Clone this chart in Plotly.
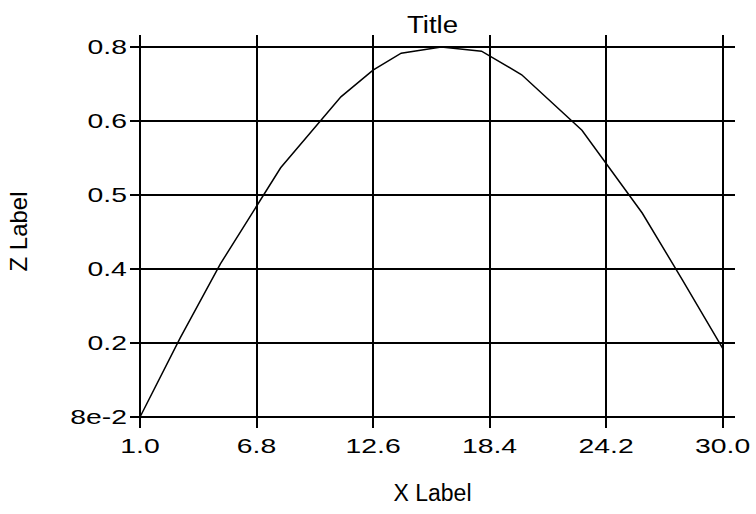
import plotly.graph_objects as go

# Data
x_vals = [1.0, 3.0, 5.0, 8.0, 11.0, 12.6, 14.0, 16.0, 18.0, 20.0, 23.0, 26.0, 28.0, 30.0]
z_vals = [0.080, 0.234, 0.378, 0.565, 0.703, 0.755, 0.788, 0.800, 0.792, 0.746, 0.638, 0.477, 0.347, 0.214]

x_tick_vals = [1.0, 6.8, 12.6, 18.4, 24.2, 30.0]
x_tick_text = ["1.0", "6.8", "12.6", "18.4", "24.2", "30.0"]
y_tick_vals = [0.08, 0.224, 0.368, 0.512, 0.656, 0.8]
y_tick_text = ["8e-2", "0.2", "0.4", "0.5", "0.6", "0.8"]

FONT = "Liberation Sans, Arial, Helvetica, sans-serif"
W, H = 756, 514

fig = go.Figure()
fig.add_trace(go.Scatter(
    x=x_vals, y=z_vals, mode="lines",
    line=dict(color="black", width=1.5),
    showlegend=False, hoverinfo="skip",
))

fig.update_layout(
    width=W, height=H,
    margin=dict(l=130, r=21, t=35, b=86),
    paper_bgcolor="white", plot_bgcolor="white",
    font=dict(family=FONT, color="black"),
    title=dict(text="Title", x=0.5, xref="paper", xanchor="center",
               y=1 - 25 / H, yref="container", yanchor="middle",
               font=dict(size=23, family=FONT, color="black")),
)
fig.update_xaxes(
    range=[0.50, 30.62],
    tickmode="array", tickvals=x_tick_vals, ticktext=x_tick_text,
    showgrid=True, gridcolor="black", gridwidth=1.5,
    zeroline=False, showline=False, ticks="",
    ticklabelstandoff=3,
    tickfont=dict(size=21, family=FONT, color="black"),
    title=dict(text="X Label", font=dict(size=23, family=FONT, color="black"), standoff=28),
)
fig.update_yaxes(
    range=[0.0586, 0.8234],
    tickmode="array", tickvals=y_tick_vals, ticktext=y_tick_text,
    showgrid=True, gridcolor="black", gridwidth=1.5,
    zeroline=False, showline=False, ticks="",
    ticklabelstandoff=2,
    tickfont=dict(size=21, family=FONT, color="black"),
    title=dict(text="Z Label", font=dict(size=24, family=FONT, color="black"), standoff=50),
)

# Remove the page margin so the figure sits at the window origin, and
# widen the tick-label / title glyphs like the reference typesetting.
post = """
document.documentElement.style.margin = '0';
document.documentElement.style.overflow = 'hidden';
document.body.style.margin = '0';
document.body.style.overflow = 'hidden';
var gd = document.getElementById('{plot_id}');
function stretchText(){
  var sel = [['.xtick text', 1.35], ['.ytick text', 1.35], ['.gtitle', 1.2]];
  sel.forEach(function(p){
    gd.querySelectorAll(p[0]).forEach(function(t){
      t.removeAttribute('textLength');
      t.removeAttribute('lengthAdjust');
      t.setAttribute('dx', '0');
      var b0 = t.getBBox();
      var L = t.getComputedTextLength();
      t.setAttribute('textLength', (L * p[1]).toFixed(2));
      t.setAttribute('lengthAdjust', 'spacingAndGlyphs');
      var b1 = t.getBBox();
      var anchor = t.getAttribute('text-anchor') || 'start';
      var dx = 0;
      if (anchor === 'end') {
        dx = (b0.x + b0.width) - (b1.x + b1.width);
      } else if (anchor === 'middle') {
        dx = (b0.x + b0.width / 2) - (b1.x + b1.width / 2);
      }
      t.setAttribute('dx', dx.toFixed(2));
    });
  });
}
stretchText();
gd.on('plotly_afterplot', stretchText);
"""

fig.write_html("out.html", post_script=post, config={"displayModeBar": False})
